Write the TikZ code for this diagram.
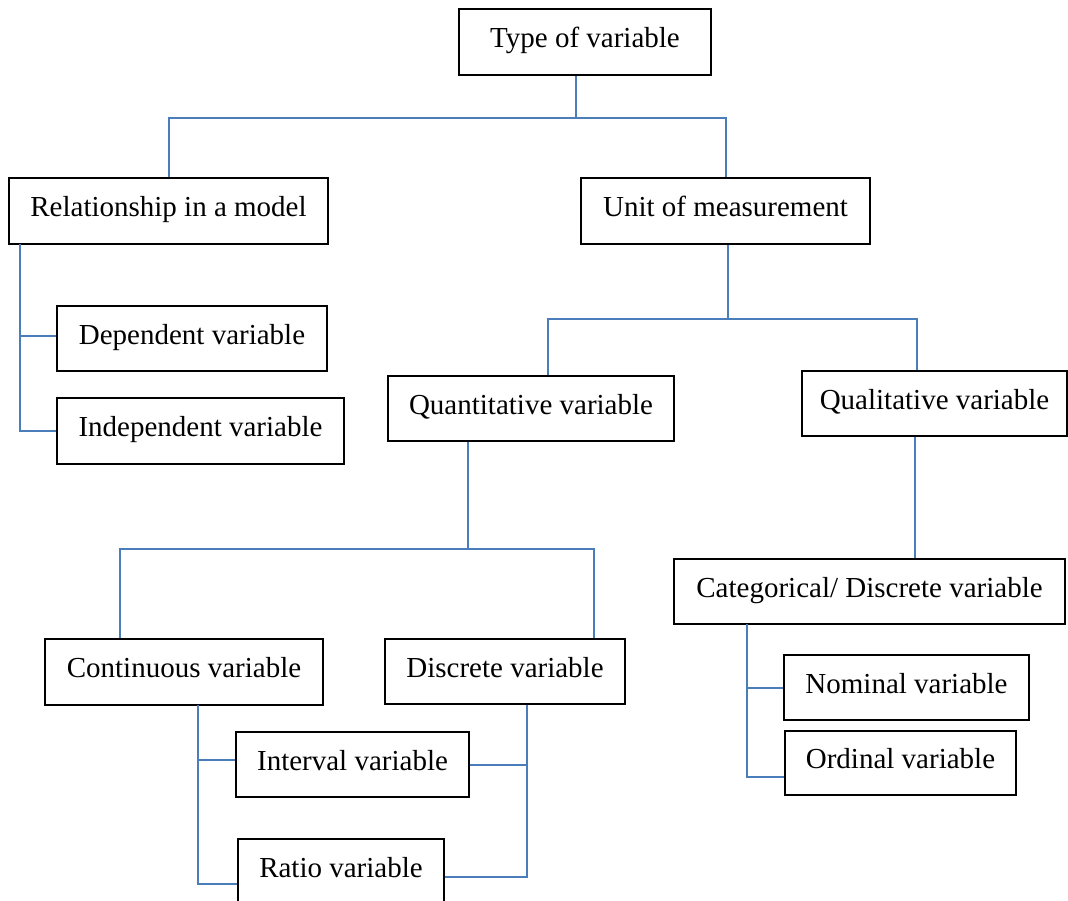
\documentclass[tikz,border=0pt]{standalone}
\usepackage{fontspec}
\setmainfont{Liberation Serif}
\definecolor{linkblue}{HTML}{4A7EBB}

\begin{document}
\begin{tikzpicture}[x=1pt,y=-1pt,
  var/.style={draw,line width=1.3pt,inner sep=0pt,minimum height=65pt,
    text height=20pt,text depth=9pt,font=\fontsize{29}{34}\selectfont},
  link/.style={draw=linkblue,line width=2pt}]
  \useasboundingbox (0,0) rectangle (1068,901);
  \node[var,minimum width=252pt,minimum height=66pt] (V-1) at (585,42) {Type of variable};
  \node[var,minimum width=319pt,minimum height=66pt] (V-2) at (168.5,211) {Relationship in a model};
  \node[var,minimum width=289pt,minimum height=66pt] (V-3) at (725.5,211) {Unit of measurement};
  \node[var,minimum width=270pt] (V-4) at (192,338.5) {Dependent variable};
  \node[var,minimum width=287pt,minimum height=66pt] (V-5) at (200.5,431) {Independent variable};
  \node[var,minimum width=286pt] (V-6) at (531,408.5) {Quantitative variable};
  \node[var,minimum width=265pt] (V-7) at (934.5,403.5) {Qualitative variable};
  \node[var,minimum width=278pt,minimum height=66pt] (V-8) at (184,672) {Continuous variable};
  \node[var,minimum width=240pt] (V-9) at (505,671.5) {Discrete variable};
  \node[var,minimum width=233pt] (V-10) at (352.5,764.5) {Interval variable};
  \node[var,minimum width=206pt] (V-11) at (341,871.5) {Ratio variable};
  \node[var,minimum width=391pt] (V-12) at (869.5,591.5) {Categorical/ Discrete variable};
  \node[var,minimum width=245pt] (V-13) at (906.5,687.5) {Nominal variable};
  \node[var,minimum width=231pt,minimum height=64pt] (V-14) at (900.5,763) {Ordinal variable};

  \coordinate (J-1) at (576,118);
  \coordinate (J-2) at (20,244);
  \coordinate (J-3) at (728,319);
  \coordinate (J-6) at (468,549);
  \coordinate (J-7) at (915,500);
  \coordinate (J-8) at (198,705);
  \coordinate (J-9) at (527,705);
  \coordinate (J-12) at (747,624);

  \draw[link] (J-1 |- V-1.south) -- (J-1);
  \draw[link] (V-2.north) |- (J-1) -| (V-3.north);
  \draw[link] (J-2) |- (V-5.west);
  \draw[link] ([yshift=2.5pt]V-4.west) -| (J-2);
  \draw[link] (J-3 |- V-3.south) -- (J-3);
  \draw[link] ([xshift=17pt]V-6.north) |- (J-3) -| ([xshift=-18pt]V-7.north);
  \draw[link] (J-6 |- V-6.south) -- (J-6);
  \draw[link] ([xshift=-64pt]V-8.north) |- (J-6) -| ([xshift=89pt]V-9.north);
  \draw[link] (J-7 |- V-7.south) -- (J-7 |- V-12.north);
  \draw[link] (J-8) |- ([yshift=4.5pt]V-10.west);
  \draw[link] (J-8) |- ([yshift=-12.5pt]V-11.west);
  \draw[link] (J-9) |- (V-10.east);
  \draw[link] (J-9) |- ([yshift=-5.5pt]V-11.east);
  \draw[link] (J-12) |- (V-13.west);
  \draw[link] (J-12) |- ([yshift=-14pt]V-14.west);
\end{tikzpicture}
\end{document}
